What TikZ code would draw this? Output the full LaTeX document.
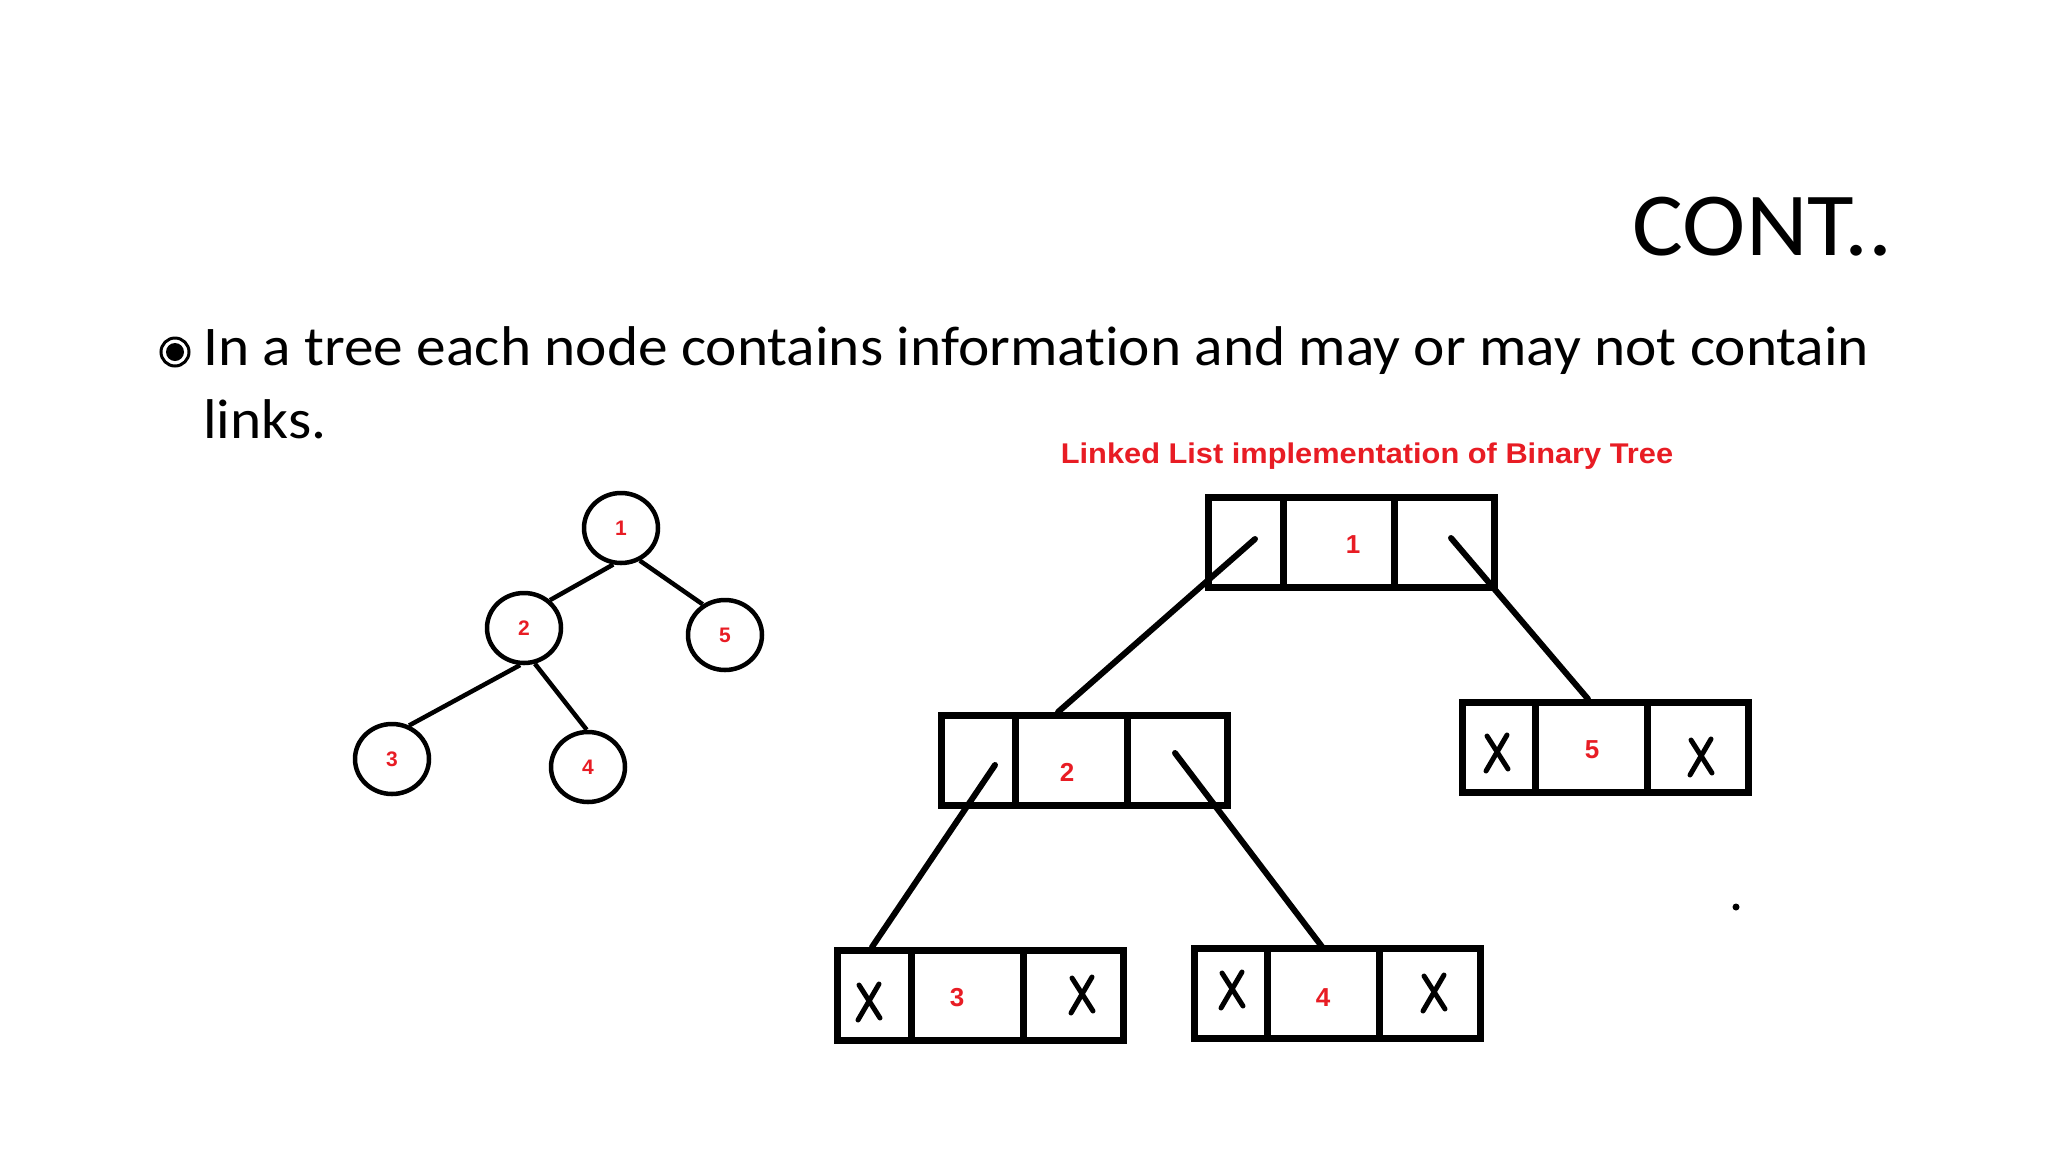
\documentclass[tikz,border=0pt]{standalone}
\usepackage{fontspec}
\setmainfont{Carlito}[Ligatures=NoCommon]
\newfontfamily\arialbold{Liberation Sans}[BoldFont={* Bold}]
\usetikzlibrary{shapes.geometric,calc}
\definecolor{lblred}{RGB}{232,28,36}
\tikzset{
  treenode/.style={ellipse, draw, line width=4.5pt, minimum width=74pt, minimum height=70pt, inner sep=0pt,
     text=lblred, font=\arialbold\bfseries\fontsize{21}{21}\selectfont},
  treeedge/.style={line width=4.5pt},
  listbox/.style={draw, line width=7pt, minimum width=286pt, minimum height=90pt, inner sep=0pt},
  cellsep/.style={line width=7pt},
  cellval/.style={text=lblred, font=\arialbold\bfseries\fontsize{26}{26}\selectfont, inner sep=0pt},
  ptr/.style={line width=6pt, line cap=round},
  xmark/.style={line width=5pt, line cap=round},
}
\newcommand{\xm}[1]{%
  \draw[xmark] ($(#1)+(-11,-17)$) -- ($(#1)+(10,16)$);
  \draw[xmark] ($(#1)+(9,-18)$) -- ($(#1)+(-12,18)$);}
\begin{document}
\begin{tikzpicture}[x=1pt,y=-1pt]
\useasboundingbox[fill=white] (0,0) rectangle (2048,1152);

% heading
\node[anchor=base east, inner sep=0pt, font=\fontsize{90}{90}\selectfont, xscale=1.06] (title) at (1893,255) {CONT..};

% bullet
\node[circle, draw, line width=3pt, minimum size=28pt, inner sep=0pt] (bul) at (175,352) {};
\fill (bul.center) circle (9);
\node[anchor=base west, inner sep=0pt, font=\fontsize{56}{56}\selectfont, xscale=1.06] (l1) at (203,365)
  {In a tree each node contains information and may or may not contain};
\node[anchor=base west, inner sep=0pt, font=\fontsize{56}{56}\selectfont, xscale=1.06] (l2) at (203,438) {links.};

% caption
\node[anchor=base, inner sep=0pt, text=lblred, font=\arialbold\bfseries\fontsize{28.5}{28.5}\selectfont, xscale=1.08] (cap) at (1367,463)
  {Linked List implementation of Binary Tree};

% tree
\node[treenode] (t1) at (621,528) {1};
\node[treenode] (t2) at (524,628) {2};
\node[treenode] (t5) at (725,635) {5};
\node[treenode] (t3) at (392,759) {3};
\node[treenode] (t4) at (588,767) {4};
\draw[treeedge] (t1.-102) -- (t2.47);
\draw[treeedge] (t1.-60) -- (t5.126);
\draw[treeedge] (t2.-96) -- (t3.63);
\draw[treeedge] (t2.-73) -- (t4.92);

% linked list boxes
\node[listbox] (b1) at (1351.5,542) {};
\draw[cellsep] (1283,497) -- (1283,587);
\draw[cellsep] (1394,497) -- (1394,587);
\node[cellval] (v1) at (1353,545) {1};

\node[listbox] (b2) at (1084,760) {};
\draw[cellsep] (1015,715) -- (1015,805);
\draw[cellsep] (1127,715) -- (1127,805);
\node[cellval] (v2) at (1067,772) {2};

\node[listbox] (b5) at (1605.5,747.5) {};
\draw[cellsep] (1535,702) -- (1535,793);
\draw[cellsep] (1647,702) -- (1647,793);
\node[cellval] (v5) at (1592,750) {5};

\node[listbox] (b3) at (980.5,995) {};
\draw[cellsep] (911,950) -- (911,1040);
\draw[cellsep] (1023,950) -- (1023,1040);
\node[cellval] (v3) at (957,998) {3};

\node[listbox] (b4) at (1337.5,993) {};
\draw[cellsep] (1267,948) -- (1267,1038);
\draw[cellsep] (1379,948) -- (1379,1038);
\node[cellval] (v4) at (1323,998) {4};

% pointers
\coordinate (p1l) at (1255,539);
\coordinate (p1r) at (1451,538);
\coordinate (p2l) at (995,765);
\coordinate (p2r) at (1175,753);
\coordinate (e2) at (1058,712);
\coordinate (e5) at (1588,699);
\coordinate (e3) at (872,947);
\coordinate (e4) at (1323,948);
\draw[ptr] (p1l) -- (e2);
\draw[ptr] (p1r) -- (e5);
\draw[ptr] (p2l) -- (e3);
\draw[ptr] (p2r) -- (e4);

% null marks
\coordinate (x5l) at (1498,753);
\coordinate (x5r) at (1702,757);
\coordinate (x3l) at (870,1002);
\coordinate (x3r) at (1083,995);
\coordinate (x4l) at (1233,990);
\coordinate (x4r) at (1435,993);
\xm{x5l}\xm{x5r}\xm{x3l}\xm{x3r}\xm{x4l}\xm{x4r}

% stray dot
\fill (1736,907) circle (3.5);
\end{tikzpicture}
\end{document}
